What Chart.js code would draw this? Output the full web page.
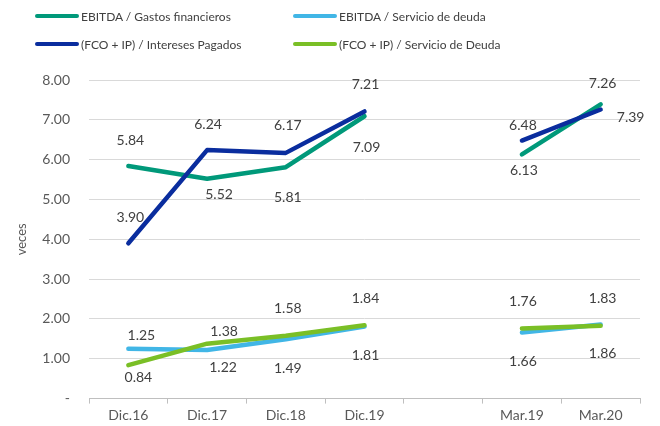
<!DOCTYPE html>
<html>
<head>
<meta charset="utf-8">
<script src="https://cdn.jsdelivr.net/npm/chart.js@4/dist/chart.umd.min.js"></script>
<style>
  body { margin: 0; background: #fff; }
  .wrap { position: relative; width: 660px; height: 426px; font-family: Lato, "Open Sans", sans-serif; }
  #chart { position: absolute; left: 0; top: 0; }
  .legend { position: absolute; left: 0; top: 0; width: 660px; height: 60px; }
  .legend-item { position: absolute; display: flex; align-items: center; font-size: 12px; color: #404040; white-space: nowrap; }
  .legend-swatch { width: 44px; height: 4px; border-radius: 2px; margin-right: 2px; }
</style>
</head>
<body>
<div class="wrap">
  <canvas id="chart" width="660" height="426"></canvas>
  <div class="legend" id="legend"></div>
</div>
<script>
const CATEGORIES = ["Dic.16", "Dic.17", "Dic.18", "Dic.19", "", "Mar.19", "Mar.20"];

const EBITDA_GASTOS = [5.84, 5.52, 5.81, 7.09, null, 6.13, 7.39];
const EBITDA_SERVICIO = [1.25, 1.22, 1.49, 1.81, null, 1.66, 1.86];
const FCO_INTERESES = [3.90, 6.24, 6.17, 7.21, null, 6.48, 7.26];
const FCO_SERVICIO = [0.84, 1.38, 1.58, 1.84, null, 1.76, 1.83];

const Y_MIN = 0;
const Y_MAX = 8;
const Y_STEP = 1;

// where each value label sits relative to its point (dx, dy in px)
const OFFSETS_GASTOS = [[2, -26], [12, 16], [2, 30], [2, 31], null, [2, 16], [30, 13]];
const OFFSETS_SERV = [[13, -13], [16, 17], [2, 29], [1, 29], null, [1, 29], [2, 29]];
const OFFSETS_INT = [[2, -26], [1, -26], [2, -27], [1, -27], null, [1, -15], [2, -26]];
const OFFSETS_FCO_SERV = [[10, 12], [17, -12], [2, -27], [1, -27], null, [1, -27], [2, -27]];

const FONT = "Lato, 'Open Sans', sans-serif";

// Excel draws later series on top; in Chart.js a lower `order` is drawn on top
function series(label, data, color, offsets, order) {
  return {
    label,
    data,
    order,
    borderColor: color,
    backgroundColor: color,
    borderWidth: 4.5,
    borderCapStyle: "round",
    borderJoinStyle: "round",
    pointRadius: 0,
    pointHoverRadius: 0,
    tension: 0,
    spanGaps: false,
    labelOffsets: offsets,
  };
}

const valueLabels = {
  id: "valueLabels",
  afterDatasetsDraw(chart) {
    const ctx = chart.ctx;
    ctx.save();
    ctx.font = "14px " + FONT;
    ctx.fillStyle = "#404040";
    ctx.textAlign = "center";
    ctx.textBaseline = "middle";
    chart.data.datasets.forEach((ds, i) => {
      const meta = chart.getDatasetMeta(i);
      meta.data.forEach((pt, j) => {
        const v = ds.data[j];
        if (v === null || v === undefined) return;
        const off = ds.labelOffsets[j] || [0, -20];
        ctx.fillText(v.toFixed(2), pt.x + off[0], pt.y + off[1]);
      });
    });
    ctx.restore();
  },
};

function renderLegend(chart) {
  const box = document.getElementById("legend");
  const spots = [
    { left: 35, top: 16 },
    { left: 35, top: 44 },
    { left: 293, top: 16 },
    { left: 293, top: 44 },
  ];
  // legend order: teal, dark blue in column 1; light blue, lime in column 2
  const order = [0, 2, 1, 3];
  box.innerHTML = order
    .map((idx, k) => {
      const ds = chart.data.datasets[idx];
      const s = spots[k];
      return `<div class="legend-item" style="left:${s.left}px;top:${s.top - 9}px;height:18px">
        <span class="legend-swatch" style="background:${ds.borderColor}"></span>${ds.label}</div>`;
    })
    .join("");
}

const chart = new Chart(document.getElementById("chart"), {
  type: "line",
  data: {
    labels: CATEGORIES,
    datasets: [
      series("EBITDA / Gastos financieros", EBITDA_GASTOS, "#00997a", OFFSETS_GASTOS, 4),
      series("EBITDA / Servicio de deuda", EBITDA_SERVICIO, "#41b6e6", OFFSETS_SERV, 3),
      series("(FCO + IP) / Intereses Pagados", FCO_INTERESES, "#0a2d9e", OFFSETS_INT, 2),
      series("(FCO + IP) / Servicio de Deuda", FCO_SERVICIO, "#7abf26", OFFSETS_FCO_SERV, 1),
    ],
  },
  options: {
    responsive: false,
    devicePixelRatio: 1,
    animation: false,
    layout: { padding: { top: 80, right: 20, bottom: 0, left: 0 } },
    scales: {
      x: {
        offset: true,
        afterFit(scale) { scale.height = 27; },
        grid: {
          offset: true,
          drawOnChartArea: false,
          drawTicks: true,
          tickLength: 5,
          color: "#bfbfbf",
        },
        border: { color: "#bfbfbf" },
        ticks: { color: "#595959", font: { family: FONT, size: 14 }, padding: 3, maxRotation: 0 },
      },
      y: {
        min: Y_MIN,
        max: Y_MAX,
        afterFit(scale) { scale.width = 89; },
        grid: { color: "#d9d9d9", drawTicks: false },
        border: { display: false },
        ticks: {
          stepSize: Y_STEP,
          padding: 19,
          color: "#595959",
          font: { family: FONT, size: 14 },
          callback: (v) => (v === 0 ? "-" : v.toFixed(2)),
        },
        title: {
          display: true,
          text: "veces",
          color: "#595959",
          font: { family: FONT, size: 13 },
          padding: { top: 14, bottom: 0 },
        },
      },
    },
    plugins: {
      legend: { display: false },
      tooltip: { enabled: false },
    },
  },
  plugins: [valueLabels],
});

renderLegend(chart);
</script>
</body>
</html>
